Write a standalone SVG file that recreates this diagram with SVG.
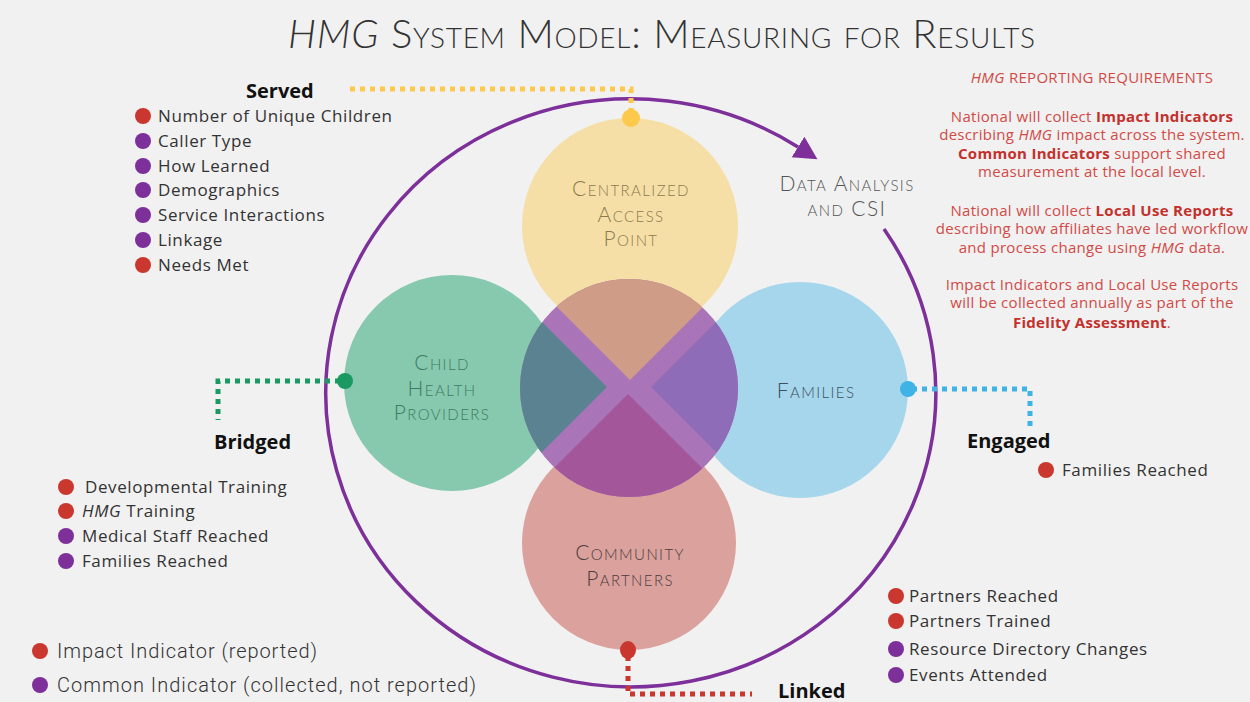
<svg xmlns="http://www.w3.org/2000/svg" width="1250" height="702" viewBox="0 0 1250 702">
<style>
.title{font-family:Lato,"Open Sans",sans-serif;font-weight:300;font-size:40px;fill:#333;font-variant:small-caps}
.lbl{font-family:Lato,"Open Sans",sans-serif;font-weight:300;font-size:21px;font-variant:small-caps;text-anchor:middle;letter-spacing:1.4px}
.head{font-family:"Open Sans",sans-serif;font-weight:700;font-size:20px;fill:#111}
.item{font-family:"Open Sans",sans-serif;font-size:17px;fill:#333;letter-spacing:0.6px}
.leg{font-family:Roboto,sans-serif;font-weight:300;font-size:20px;fill:#333}
.req{font-family:"Open Sans",sans-serif;font-size:15px;fill:#d24a46;text-anchor:middle;letter-spacing:0.3px}
.req .b{font-weight:700;fill:#c4302c}
.imp{fill:#c9372f}
.com{fill:#7d2f9a}
.dash{fill:none;stroke-width:5;stroke-dasharray:5 5}
</style>
<defs>
<clipPath id="cc"><circle cx="629" cy="388" r="109"/></clipPath>
<marker id="ah" viewBox="0 -13 24 26" refX="0" refY="0" markerWidth="24" markerHeight="26" markerUnits="userSpaceOnUse" orient="auto">
<path d="M0,-12 L23,0 L0,12 z" fill="#7d2f9a"/>
</marker>
</defs>
<rect width="1250" height="702" fill="#f1f1f1"/>

<text class="title" x="288" y="48" textLength="747" lengthAdjust="spacing"><tspan font-style="italic">HMG</tspan> System Model: Measuring for Results</text>

<g id="centralized-access-point">
<circle cx="630" cy="226" r="108" fill="#f6dfa6"/>
<g class="lbl" fill="#8b7a50">
<text x="631" y="196">Centralized</text>
<text x="631" y="222">Access</text>
<text x="631" y="246">Point</text>
</g>
</g>
<g id="child-health-providers">
<circle cx="452" cy="383" r="108" fill="#87c9ae"/>
<g class="lbl" fill="#3e7b63">
<text x="442" y="370">Child</text>
<text x="442" y="396">Health</text>
<text x="442" y="420">Providers</text>
</g>
</g>
<g id="families">
<circle cx="800" cy="390" r="108" fill="#a6d6eb"/>
<text class="lbl" fill="#3d4f5c" x="816" y="398">Families</text>
</g>
<g id="community-partners">
<circle cx="629" cy="543" r="107" fill="#dba19d"/>
<g class="lbl" fill="#4b3d3d">
<text x="630" y="560">Community</text>
<text x="630" y="586">Partners</text>
</g>
</g>
<g id="center">
<circle cx="629" cy="388" r="109" fill="#aa74b8"/>
<g clip-path="url(#cc)">
<polygon points="630,380 430,180 830,180" fill="#cf9c88"/>
<polygon points="628,394 428,594 828,594" fill="#a3579a"/>
<polygon points="607,387 407,187 407,587" fill="#5a8290"/>
<polygon points="651,387 851,187 851,587" fill="#8e6cb7"/>
</g>
</g>

<g id="data-analysis">
<path d="M884 229 A305 294 0 1 1 798 147" fill="none" stroke="#7d2f9a" stroke-width="3.5" marker-end="url(#ah)"/>
<g class="lbl" fill="#555">
<text x="847" y="191">Data Analysis</text>
<text x="847" y="216">and CSI</text>
</g>
</g>

<g id="connectors">
<path class="dash" stroke="#fdc94c" d="M350 89 H631 V114"/>
<circle cx="631" cy="118" r="9" fill="#fdc94c"/>
<path class="dash" stroke="#1a9a62" d="M340 381 H218 V420"/>
<circle cx="345" cy="381" r="8" fill="#1a9a62"/>
<path class="dash" stroke="#3fb3e5" d="M912 389 H1030 V426"/>
<circle cx="908" cy="389" r="8" fill="#3fb3e5"/>
<path class="dash" stroke="#c9372f" d="M628 656 V694 H752"/>
<ellipse cx="628" cy="650" rx="8" ry="9" fill="#c9372f"/>
</g>

<g id="served">
<text class="head" x="246" y="98">Served</text>
<circle class="imp" cx="143" cy="116" r="8"/><text class="item" x="158" y="122">Number of Unique Children</text>
<circle class="com" cx="143" cy="141" r="8"/><text class="item" x="158" y="147">Caller Type</text>
<circle class="com" cx="143" cy="166" r="8"/><text class="item" x="158" y="172">How Learned</text>
<circle class="com" cx="143" cy="190" r="8"/><text class="item" x="158" y="196">Demographics</text>
<circle class="com" cx="143" cy="215" r="8"/><text class="item" x="158" y="221">Service Interactions</text>
<circle class="com" cx="143" cy="240" r="8"/><text class="item" x="158" y="246">Linkage</text>
<circle class="imp" cx="143" cy="265" r="8"/><text class="item" x="158" y="271">Needs Met</text>
</g>

<g id="bridged">
<text class="head" x="214" y="449">Bridged</text>
<circle class="imp" cx="66" cy="487" r="8"/><text class="item" x="85" y="493">Developmental Training</text>
<circle class="imp" cx="66" cy="511" r="8"/><text class="item" x="82" y="517"><tspan font-style="italic">HMG</tspan> Training</text>
<circle class="com" cx="66" cy="536" r="8"/><text class="item" x="82" y="542">Medical Staff Reached</text>
<circle class="com" cx="66" cy="561" r="8"/><text class="item" x="82" y="567">Families Reached</text>
</g>

<g id="engaged">
<text class="head" x="967" y="448">Engaged</text>
<circle class="imp" cx="1046" cy="470" r="8"/><text class="item" x="1062" y="476">Families Reached</text>
</g>

<g id="linked">
<text class="head" x="778" y="698">Linked</text>
<circle class="imp" cx="896" cy="596" r="8"/><text class="item" x="909" y="602">Partners Reached</text>
<circle class="imp" cx="896" cy="621" r="8"/><text class="item" x="909" y="627">Partners Trained</text>
<circle class="com" cx="896" cy="649" r="8"/><text class="item" x="909" y="655">Resource Directory Changes</text>
<circle class="com" cx="896" cy="675" r="8"/><text class="item" x="909" y="681">Events Attended</text>
</g>

<g id="legend">
<circle class="imp" cx="40" cy="651" r="8"/><text class="leg" x="57" y="658" textLength="260" lengthAdjust="spacing">Impact Indicator (reported)</text>
<circle class="com" cx="40" cy="685" r="8"/><text class="leg" x="57" y="692" textLength="419" lengthAdjust="spacing">Common Indicator (collected, not reported)</text>
</g>

<g id="requirements">
<text class="req" x="1092" y="83" letter-spacing="1.2"><tspan font-style="italic">HMG</tspan> REPORTING REQUIREMENTS</text>
<text class="req" x="1092" y="122">National will collect <tspan class="b">Impact Indicators</tspan></text>
<text class="req" x="1092" y="140">describing <tspan font-style="italic">HMG</tspan> impact across the system.</text>
<text class="req" x="1092" y="159"><tspan class="b">Common Indicators</tspan> support shared</text>
<text class="req" x="1092" y="177">measurement at the local level.</text>
<text class="req" x="1092" y="216">National will collect <tspan class="b">Local Use Reports</tspan></text>
<text class="req" x="1092" y="234">describing how affiliates have led workflow</text>
<text class="req" x="1092" y="253">and process change using <tspan font-style="italic">HMG</tspan> data.</text>
<text class="req" x="1092" y="290">Impact Indicators and Local Use Reports</text>
<text class="req" x="1092" y="308">will be collected annually as part of the</text>
<text class="req" x="1092" y="328"><tspan class="b">Fidelity Assessment</tspan>.</text>
</g>
</svg>
